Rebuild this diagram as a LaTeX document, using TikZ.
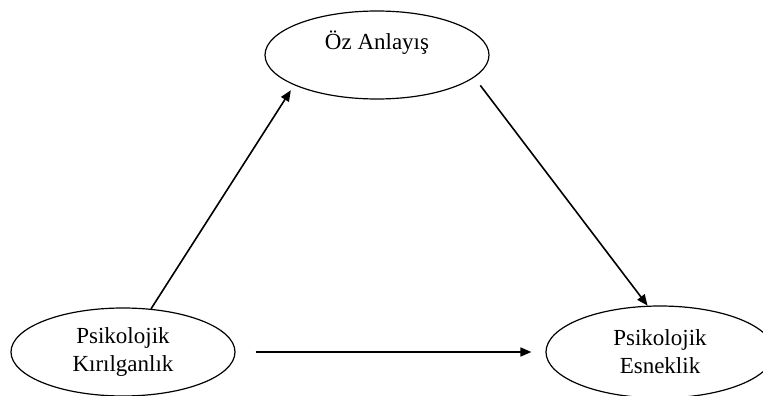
\documentclass[tikz,border=0pt]{standalone}
\usepackage{fontspec}
\setmainfont{Liberation Serif}
\usetikzlibrary{shapes.geometric,arrows.meta}

\begin{document}
\begin{tikzpicture}[x=1pt,y=-1pt,
  degisken/.style={draw,line width=1.2pt,ellipse,minimum width=224pt,minimum height=88pt,inner sep=0pt,align=center,font=\fontsize{23.0}{28.0}\selectfont},
  yol/.style={line width=1.6pt,-{Triangle[length=11pt,width=9pt]}}]
\path[use as bounding box] (0,0) rectangle (763.0,396.0);
\clip (0,0) rectangle (763.0,396.0);
\node[degisken,text depth=30pt] (oz) at (377,55) {Öz Anlayış};
\node[degisken] (kir) at (123,352) {Psikolojik\\Kırılganlık};
\node[degisken,minimum width=228pt,minimum height=92pt] (esn) at (660,352) {Psikolojik\\Esneklik};
\draw[yol,shorten >=6pt] (kir.57) -- (oz.200);
\draw[yol,shorten <=10pt] (oz.347) -- (esn.105);
\draw[yol,shorten <=20pt,shorten >=14pt] (kir) -- (esn);
\end{tikzpicture}
\end{document}
